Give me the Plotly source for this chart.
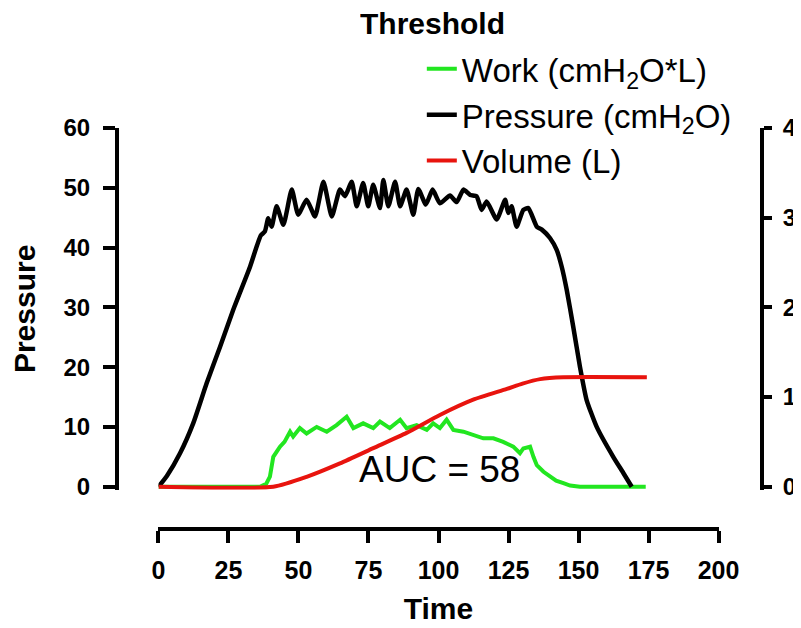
import plotly.graph_objects as go

# ---------------- data ----------------
pressure_time = [0, 3, 7.7, 12.4, 17.2, 22, 26.7, 32.7, 36.5, 38.0, 39.2, 40.4, 42.2, 44.6, 47.6, 49.9,
                 52.9, 55.9, 58.9, 61.9, 64.8, 66.6, 69, 70.8, 73.1, 74.9, 76.7, 79.1, 80.3, 82.1,
                 84.5, 86.3, 88.6, 91, 92.8, 95.5, 97.9, 100.5, 104.1, 106.5, 108.9, 111.3, 113.6,
                 115.4, 117.2, 120.8, 123.8, 124.9, 126.1, 127.9, 130.3, 132.1, 135.1, 136.9, 139.8,
                 142.2, 144, 145.8, 148.1, 150.5, 152.9, 156.5, 162.4, 166, 169]
pressure_values = [0, 1.8, 5.6, 10.6, 17.3, 23.4, 29.6, 36.8, 42.0, 42.7, 44.9, 43.5, 46.9, 43.8, 49.7, 45.5,
                   48.0, 45.2, 51.0, 45.2, 49.7, 48.6, 51.0, 46.9, 50.8, 46.9, 50.5, 46.6, 51.3, 46.9,
                   51.0, 46.9, 49.7, 45.5, 49.8, 47.2, 49.7, 47.4, 48.7, 47.6, 49.7, 48.8, 48.6,
                   46.3, 47.7, 44.7, 48.0, 45.8, 46.9, 43.5, 46.3, 46.6, 43.5, 43.0, 41.6,
                   39.6, 36.8, 32.9, 26.8, 20.1, 14.5, 10.0, 5.0, 2.3, 0]

volume_time = [0, 41, 52.9, 64.8, 76.7, 88.6, 100.5, 112.4, 124.4, 130, 136.3, 144.6, 174.4]
volume_values = [0, 0, 0.11, 0.26, 0.43, 0.60, 0.80, 0.97, 1.09, 1.15, 1.20, 1.22, 1.22]

work_time = [0, 36.2, 38.5, 39.8, 41, 43.4, 45, 47, 48.1, 50.5, 52.9, 56.5, 60.1, 63.6, 67.2, 69.6,
             73.1, 76.7, 79.1, 82.6, 86.3, 88.6, 92.2, 95.8, 98.1, 100.5, 102.9, 105.3, 108.9, 112.4,
             116, 119.6, 123.1, 126.7, 129.1, 130.3, 132.7, 133.9, 135.1, 137.5, 139.8, 142, 144.6,
             147, 150.5, 174]
work_values = [0, 0, 0.5, 1.7, 5.0, 6.7, 7.5, 9.2, 8.4, 9.8, 8.9, 10.0, 9.2, 10.3, 11.7, 9.8,
               10.6, 9.8, 10.9, 9.8, 11.2, 9.8, 10.3, 9.5, 10.6, 9.8, 11.2, 9.5, 9.2, 8.7,
               8.1, 8.1, 7.5, 6.7, 5.6, 6.4, 6.7, 5.0, 3.6, 2.5, 1.7, 1.0, 0.6,
               0.2, 0, 0]

x_ticks = [0, 25, 50, 75, 100, 125, 150, 175, 200]
left_ticks = [0, 10, 20, 30, 40, 50, 60]
right_ticks = [0, 1, 2, 3, 4]

FONT = "Liberation Sans, Arial, sans-serif"

fig = go.Figure()
fig.add_trace(go.Scatter(x=work_time, y=work_values, mode="lines",
                         name="Work (cmH<sub>2</sub>O*L)", legendrank=1, legendgroup="w",
                         line=dict(color="#22e620", width=4), yaxis="y"))
fig.add_trace(go.Scatter(x=pressure_time, y=pressure_values, mode="lines",
                         name="Pressure (cmH<sub>2</sub>O)", legendrank=2, legendgroup="p",
                         line=dict(color="black", width=4.5, shape="spline", smoothing=0.5),
                         yaxis="y"))
fig.add_trace(go.Scatter(x=volume_time, y=volume_values, mode="lines",
                         name="Volume (L)", legendrank=3, legendgroup="v",
                         line=dict(color="#e8140e", width=4, shape="spline", smoothing=0.6),
                         yaxis="y2"))

tick_font = dict(family=FONT, size=24, color="black", weight="bold")

# page body has an 8px default margin, so the figure is 8px smaller and offsets are reduced
fig.update_layout(
    width=793, height=620, autosize=False,
    paper_bgcolor="white", plot_bgcolor="white",
    margin=dict(l=109, r=39, t=120, b=99, pad=0, autoexpand=False),
    xaxis=dict(domain=[0.0643, 0.9326], range=[0, 200], anchor="free", position=0,
               showline=True, linewidth=4, linecolor="black",
               ticks="outside", ticklen=12, tickwidth=4, tickcolor="black",
               tickvals=x_ticks, showgrid=False, zeroline=False, automargin=False,
               tickfont=dict(family=FONT, size=25, color="black", weight="bold"),
               ticklabelstandoff=6,
               title=dict(text="Time", font=dict(family=FONT, size=30, color="black", weight="bold"),
                          standoff=14)),
    yaxis=dict(domain=[0.098, 1], range=[-0.5, 60], anchor="free", position=0,
               showline=True, linewidth=4, linecolor="black",
               ticks="outside", ticklen=12, tickwidth=4, tickcolor="black",
               tickvals=left_ticks, showgrid=False, zeroline=False, automargin=False,
               tickfont=tick_font, ticklabelstandoff=8,
               title=dict(text="Pressure", font=dict(family=FONT, size=30, color="black", weight="bold"),
                          standoff=22)),
    yaxis2=dict(domain=[0.098, 1], range=[-1/30, 4], overlaying="y", side="right",
                anchor="free", position=1,
                showline=True, linewidth=4, linecolor="black",
                ticks="outside", ticklen=8, tickwidth=4, tickcolor="black",
                tickvals=right_ticks, showgrid=False, zeroline=False, automargin=False,
                tickfont=tick_font, ticklabelstandoff=6),
    showlegend=True,
    legend=dict(x=0.4726, y=1.2175, xanchor="left", yanchor="top",
                font=dict(family=FONT, size=33, color="black"),
                bgcolor="rgba(0,0,0,0)", traceorder="grouped", tracegroupgap=0),
    annotations=[
        dict(text="Threshold", xref="paper", yref="paper", x=0.489, y=1.263,
             xanchor="center", yanchor="middle", showarrow=False, height=28,
             valign="middle",
             font=dict(family=FONT, size=30, color="black", weight="bold")),
        dict(text="AUC = 58", xref="x", yref="y", x=100.2, y=2.8,
             xanchor="center", yanchor="middle", showarrow=False,
             font=dict(family=FONT, size=37, color="black")),
    ],
)

fig.write_html("out.html")
